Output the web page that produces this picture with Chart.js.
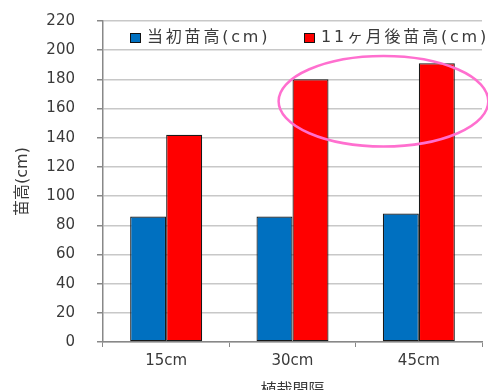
<!DOCTYPE html>
<html><head><meta charset="utf-8">
<script src="https://cdn.jsdelivr.net/npm/chart.js@4/dist/chart.umd.min.js"></script>
<style>html,body{margin:0;padding:0;background:#fff}</style>
</head><body>
<canvas id="c" width="488" height="390"></canvas>
<script>
// Seedling height by planting interval
const categories = ['15cm', '30cm', '45cm'];
const initialHeight = [86, 86, 88];
const heightAfter11Months = [142, 180, 191];
const seriesLabels = ['当初苗高(cm)', '11ヶ月後苗高(cm)'];
const yRange = [0, 220];
const yStep = 20;
const xTitle = '植栽間隔';
const yTitle = '苗高(cm)';
// emphasised area: centre (category index, value) and radii (categories, value units)
const highlightCentre = [1.72, 165];
const highlightRadii = [0.83, 31];

const FONT = '"DejaVu Sans", "Noto Sans CJK JP", sans-serif';
const TEXT = '#3a3a3a';

const legendPlugin = {
  id: 'insideLegend',
  afterDraw(chart) {
    const { ctx, chartArea } = chart;
    const offsets = [27, 201];
    ctx.save();
    ctx.font = '16px ' + FONT;
    ctx.textBaseline = 'middle';
    chart.data.datasets.forEach((ds, i) => {
      const x = chartArea.left + offsets[i];
      const y = chartArea.top + 17;
      ctx.fillStyle = ds.backgroundColor;
      ctx.fillRect(x, y - 5, 10, 9);
      ctx.strokeStyle = '#111';
      ctx.lineWidth = 1;
      ctx.strokeRect(x + 0.5, y - 4.5, 10, 9);
      ctx.fillStyle = TEXT;
      ctx.letterSpacing = '2.8px';
      ctx.fillText(ds.label, x + 17, y);
    });
    ctx.restore();
  }
};

const highlightPlugin = {
  id: 'highlightEllipse',
  afterDraw(chart) {
    const { ctx } = chart;
    const xs = chart.scales.x, ys = chart.scales.y;
    const i0 = Math.floor(highlightCentre[0]);
    const p0 = xs.getPixelForValue(i0), p1 = xs.getPixelForValue(i0 + 1);
    const catW = p1 - p0;
    const cx = p0 + (highlightCentre[0] - i0) * catW;
    const cy = ys.getPixelForValue(highlightCentre[1]);
    const rx = highlightRadii[0] * catW;
    const ry = Math.abs(ys.getPixelForValue(highlightCentre[1] + highlightRadii[1]) - cy);
    ctx.save();
    ctx.strokeStyle = '#ff6fcf';
    ctx.lineWidth = 2.5;
    ctx.beginPath();
    ctx.ellipse(cx, cy, rx, ry, 0, 0, Math.PI * 2);
    ctx.stroke();
    ctx.restore();
  }
};

new Chart(document.getElementById('c'), {
  type: 'bar',
  data: {
    labels: categories,
    datasets: [
      { label: seriesLabels[0], data: initialHeight, backgroundColor: '#0070c0', borderColor: '#1a1a1a', borderWidth: 1.2, borderSkipped: false },
      { label: seriesLabels[1], data: heightAfter11Months, backgroundColor: '#ff0000', borderColor: '#1a1a1a', borderWidth: 1.2, borderSkipped: false }
    ]
  },
  options: {
    responsive: false,
    animation: false,
    devicePixelRatio: 1,
    layout: { padding: { top: 21, right: 6, left: 0, bottom: 0 } },
    datasets: { bar: { categoryPercentage: 0.57, barPercentage: 1.0 } },
    plugins: { legend: { display: false }, tooltip: { enabled: false } },
    scales: {
      x: {
        grid: { display: true, drawOnChartArea: false, offset: true, tickLength: 5, color: '#888' },
        border: { color: '#888', width: 1.5 },
        ticks: { color: TEXT, font: { family: FONT, size: 15 }, padding: 5 },
        title: { display: true, text: xTitle, color: TEXT, font: { family: FONT, size: 16 }, padding: { top: 0, bottom: -10 } },
        afterFit(s) { s.height = 48; s.paddingLeft = 0; s.paddingRight = 0; }
      },
      y: {
        min: yRange[0], max: yRange[1],
        ticks: { stepSize: yStep, color: TEXT, font: { family: FONT, size: 15 }, padding: 22 },
        grid: { color: '#c8c8c8', lineWidth: 1.5, tickLength: 6, tickColor: '#888' },
        border: { color: '#888', width: 1.5 },
        title: { display: true, text: yTitle, color: TEXT, font: { family: FONT, size: 16 }, padding: { top: 13, bottom: 0 } },
        afterFit(s) { s.width = 103; s.paddingTop = 0; s.paddingBottom = 0; }
      }
    }
  },
  plugins: [legendPlugin, highlightPlugin]
});
</script>
</body></html>
